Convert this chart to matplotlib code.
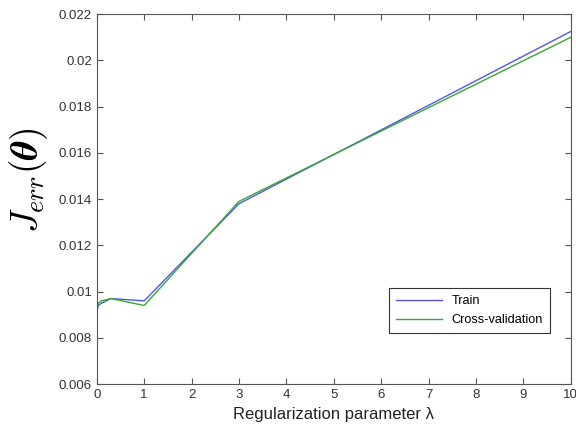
import matplotlib
matplotlib.use('Agg')
import matplotlib.pyplot as plt

plt.rcParams['font.family'] = ['Liberation Sans', 'DejaVu Sans']
plt.rcParams['mathtext.fontset'] = 'cm'

# lambda values and errors
lam = [0, 0.001, 0.003, 0.01, 0.03, 0.1, 0.3, 1, 3, 10]
train_err = [0.0090, 0.0090, 0.0091, 0.0092, 0.0094, 0.0095, 0.0097, 0.0096, 0.0138, 0.02125]
cv_err = [0.0091, 0.0091, 0.0092, 0.0093, 0.0095, 0.0096, 0.0097, 0.0094, 0.0139, 0.0210]

xticks = list(range(0, 11))
yticks = [0.006, 0.008, 0.01, 0.012, 0.014, 0.016, 0.018, 0.02, 0.022]
ytick_labels = ['0.006', '0.008', '0.01', '0.012', '0.014', '0.016', '0.018', '0.02', '0.022']

fig = plt.figure(figsize=(5.76, 4.41), dpi=100)
ax = fig.add_axes([0.168, 0.129, 0.823, 0.839])

ax.plot(lam, train_err, color='#5555ee', lw=1.0, label='Train')
ax.plot(lam, cv_err, color='#33aa33', lw=1.0, label='Cross-validation')

ax.set_xlim(0, 10)
ax.set_ylim(0.006, 0.022)
ax.set_xticks(xticks)
ax.set_yticks(yticks)
ax.set_yticklabels(ytick_labels)
ax.tick_params(direction='in', top=True, right=True, labelsize=9.5,
               labelcolor='#333333', color='#555555', length=4)
for s in ax.spines.values():
    s.set_color('#555555')

ax.set_xlabel('Regularization parameter λ', fontsize=12, color='#222222')
ax.set_ylabel(r'$\boldsymbol{J_{err}(\theta)}$', fontsize=27)
ax.yaxis.set_label_coords(-0.098, 0.55)

leg = ax.legend(loc='lower right', bbox_to_anchor=(0.97, 0.12), fontsize=9.2,
                fancybox=False, framealpha=1, edgecolor='#333333',
                handlelength=3.6, borderpad=0.55, labelspacing=0.55)
leg.get_frame().set_linewidth(0.8)

fig.savefig('out.png', dpi=100)
